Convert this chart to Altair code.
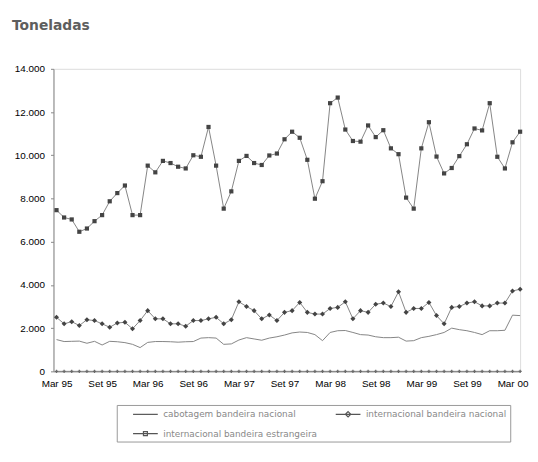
import altair as alt
import pandas as pd

# ---- data (monthly, Mar 95 .. Apr 00) ----
tick_labels = ["Mar 95", "Set 95", "Mar 96", "Set 96", "Mar 97", "Set 97",
               "Mar 98", "Set 98", "Mar 99", "Set 99", "Mar 00"]
y_ticks = [0, 2000, 4000, 6000, 8000, 10000, 12000, 14000]

series_names = ["cabotagem bandeira nacional",
                "internacional bandeira nacional",
                "internacional bandeira estrangeira",
                "cabotagem bandeira estrangeira"]

int_estrangeira = [7460, 7120, 7030, 6460, 6610, 6950, 7230, 7870, 8250, 8600,
                   7230, 7230, 9520, 9210, 9740, 9640, 9470, 9390, 10000, 9930,
                   11310, 9520, 7530, 8330, 9740, 9970, 9640, 9550, 9990, 10080,
                   10740, 11090, 10810, 9790, 7990, 8800, 12410, 12670, 11190, 10660,
                   10630, 11380, 10840, 11160, 10320, 10050, 8040, 7530, 10320, 11530,
                   9940, 9160, 9410, 9960, 10510, 11240, 11150, 12410, 9930, 9390,
                   10600, 11090]

int_nacional = [2500, 2200, 2300, 2120, 2390, 2350, 2200, 2040, 2240, 2270,
                1970, 2350, 2810, 2430, 2430, 2200, 2200, 2090, 2350, 2350,
                2430, 2500, 2200, 2390, 3220, 3000, 2810, 2430, 2610, 2350,
                2730, 2810, 3190, 2730, 2650, 2650, 2910, 2960, 3220, 2430,
                2810, 2730, 3110, 3160, 3000, 3680, 2730, 2910, 2910, 3190,
                2580, 2200, 2960, 3000, 3160, 3220, 3030, 3030, 3160, 3160,
                3720, 3800]

cab_nacional = [1470, 1380, 1390, 1400, 1300, 1390, 1220, 1390, 1370, 1330,
                1250, 1100, 1340, 1380, 1380, 1370, 1350, 1370, 1380, 1540,
                1560, 1540, 1250, 1270, 1450, 1560, 1500, 1440, 1540, 1600,
                1680, 1780, 1820, 1800, 1700, 1420, 1800, 1880, 1890, 1800,
                1700, 1680, 1600, 1560, 1560, 1580, 1400, 1420, 1560, 1620,
                1700, 1800, 2000, 1930, 1880, 1800, 1700, 1880, 1880, 1900,
                2600, 2580]

cab_estrangeira = [0, 0, 0, 0, 0, 0, 0, 0, 0, 0,
                   0, 0, 0, 0, 0, 0, 0, 0, 0, 0,
                   0, 0, 0, 0, 0, 0, 0, 0, 0, 0,
                   0, 0, 0, 0, 0, 0, 0, 0, 0, 0,
                   0, 0, 0, 0, 0, 0, 0, 0, 0, 0,
                   0, 0, 0, 0, 0, 0, 0, 0, 0, 0,
                   0, 0]

rows = []
for name, vals in zip(series_names,
                      [cab_nacional, int_nacional, int_estrangeira, cab_estrangeira]):
    for i, v in enumerate(vals):
        rows.append({"m": i, "serie": name, "valor": v})
df = pd.DataFrame(rows)

legend_names = series_names[:3]
legend_paths = [
    "M1.5,0L6.5,0",
    "M1.5,0L6.5,0M4,-0.55L4.55,0L4,0.55L3.45,0Z",
    "M1.5,0L6.5,0M3.6,-0.4L4.4,-0.4L4.4,0.4L3.6,0.4Z",
]

label_expr = "[" + ",".join("'%s'" % t for t in tick_labels) + "][round(datum.value / 6)]"

x_enc = alt.X("m:Q",
              scale=alt.Scale(domain=[-0.4, 61], nice=False, zero=False),
              axis=alt.Axis(values=[0, 6, 12, 18, 24, 30, 36, 42, 48, 54, 60],
                            labelExpr=label_expr, title=None, ticks=False,
                            labelPadding=7, grid=False))
y_enc = alt.Y("valor:Q",
              scale=alt.Scale(domain=[0, 14000], nice=False),
              axis=alt.Axis(values=y_ticks, title=None, grid=False,
                            tickSize=3, labelPadding=6,
                            labelExpr="replace(format(datum.value, ','), ',', '.')"))

base = alt.Chart(df).encode(x=x_enc, y=y_enc)

lines = base.mark_line(color="#858585", strokeWidth=1).encode(detail="serie:N")

squares = base.transform_filter(
    alt.datum.serie == series_names[2]
).mark_point(shape="square", filled=True, size=18, color="#444444", opacity=1)

diamonds = base.transform_filter(
    alt.datum.serie == series_names[1]
).mark_point(shape="diamond", filled=True, size=26, color="#444444", opacity=1)

crosses = base.transform_filter(
    alt.datum.serie == series_names[3]
).mark_point(shape="cross", filled=True, size=10, color="#6a6a6a", opacity=1)

legend_layer = base.transform_filter(
    alt.FieldOneOfPredicate(field="serie", oneOf=legend_names)
).mark_point(opacity=0, filled=False, strokeWidth=1.2).encode(
    color=alt.value("#555555"),
    shape=alt.Shape("serie:N", sort=legend_names,
                    scale=alt.Scale(domain=legend_names, range=legend_paths),
                    legend=alt.Legend(title=None, orient="none",
                                      direction="horizontal",
                                      values=legend_names,
                                      legendX=64, legendY=340,
                                      columns=2, symbolSize=100,
                                      labelOffset=32, rowPadding=8,
                                      columnPadding=5, padding=3,
                                      strokeColor="#999999",
                                      labelFont="DejaVu Sans", labelFontSize=9,
                                      labelColor="#888888", labelLimit=400,
                                      symbolStrokeWidth=1.2)),
)

chart = alt.layer(lines, squares, diamonds, crosses, legend_layer).properties(
    width=472, height=306,
    title=alt.TitleParams("Toneladas", anchor="start", frame="group", dx=-42,
                          offset=20, baseline="alphabetic",
                          font="DejaVu Sans", fontSize=14, fontWeight="bold",
                          color="#5e5e5e"),
    autosize=alt.AutoSizeParams(type="none"),
    padding={"left": 46, "top": 59, "right": 10, "bottom": 75},
).configure_view(
    stroke="#e4e4e4"
).configure_axis(
    labelFont="Liberation Sans", labelFontSize=10, labelColor="#7a7a7a",
    domainColor="#9a9a9a", tickColor="#9a9a9a",
).configure(background="white")

chart.save("out.html", embed_options={"renderer": "svg", "actions": False})
